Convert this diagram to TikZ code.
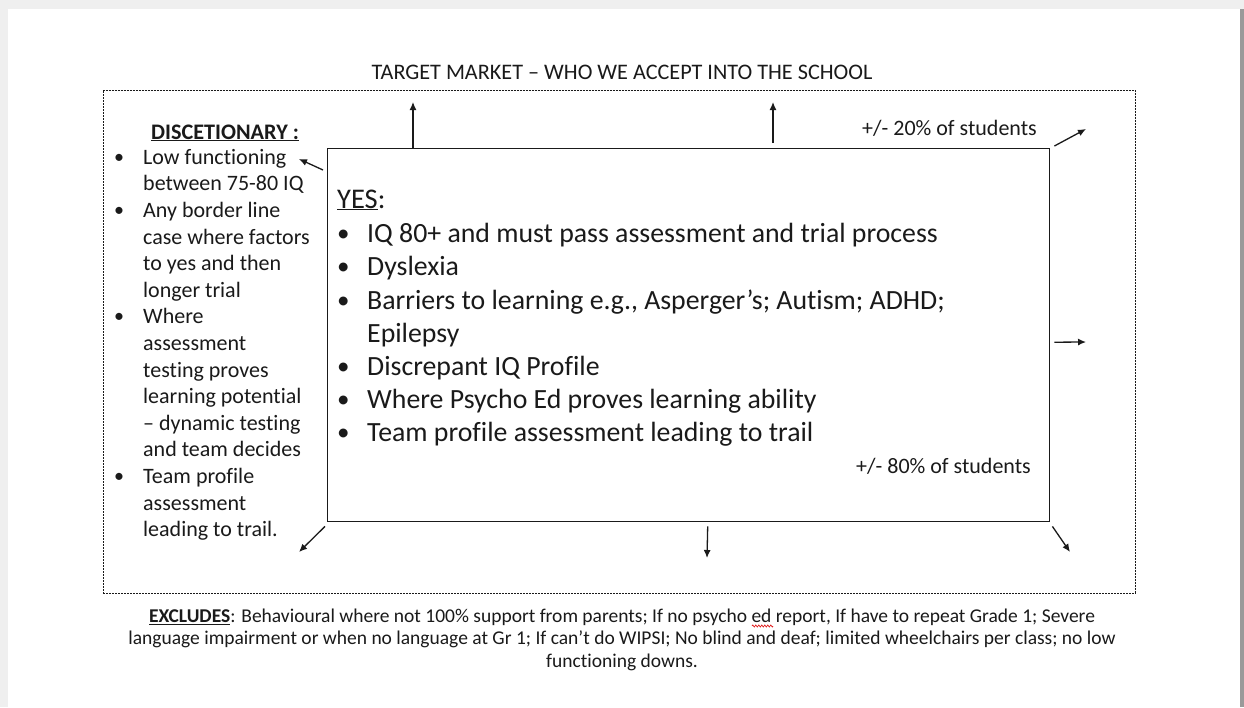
\documentclass[tikz,border=0pt]{standalone}
\usepackage{fontspec}
\setmainfont{Carlito}[Ligatures=NoCommon]
\usetikzlibrary{arrows.meta,decorations.pathmorphing}
\tikzset{>={Latex[length=8pt,width=7pt]}}

\definecolor{pagegrey}{HTML}{EFEFEF}
\definecolor{edgegrey}{HTML}{9A9A9A}
\definecolor{inkblack}{HTML}{1A1A1A}
\definecolor{spellred}{HTML}{E02020}

\newcommand\bul{\makebox[0pt][r]{\makebox[29pt][l]{\raisebox{1pt}{\fontsize{20}{20}\selectfont\textbullet}}}}
\newcommand\bigbul{\makebox[0pt][r]{\makebox[30pt][l]{\raisebox{1pt}{\fontsize{25}{25}\selectfont\textbullet}}}}

\begin{document}
\begin{tikzpicture}[x=1pt,y=-1pt,
squarebox/.style={draw=inkblack, anchor=north west, inner sep=0pt},
listtext/.style={anchor=north west, inner sep=0pt, align=left, text=inkblack},
arrowline/.style={->, draw=inkblack, line width=1.3pt},
]
\useasboundingbox (0,0) rectangle (1244,707);
%Page
\fill[pagegrey] (0,0) rectangle (1244,707);
\fill[white] (8,9) rectangle (1240,707);
\fill[edgegrey] (1240,9) rectangle (1244,707);

%Boxes
\node[squarebox, dash pattern=on 2pt off 1pt, line width=0.9pt, minimum width=1032pt, minimum height=503pt](Market) at (103,90){};
\node[squarebox, line width=1.4pt, minimum width=722pt, minimum height=373pt](Yes) at (327,148){};

%Texts
\node[anchor=base, text=inkblack, font=\fontsize{22.2}{26}\selectfont](Title) at (622,79){TARGET MARKET – WHO WE ACCEPT INTO THE SCHOOL};
\node[anchor=base west, inner sep=0pt, text=inkblack, font=\fontsize{22.2}{26.6}\selectfont\bfseries](Disc) at (151,139){\underline{DISCETIONARY :}};
\node[listtext, font=\fontsize{22}{26.6}\selectfont](DiscList) at (143,145.4){\strut\bul Low functioning\\
between 75-80 IQ\\
\bul Any border line\\
case where factors\\
to yes and then\\
longer trial\\
\bul Where\\
assessment\\
testing proves\\
learning potential\\
– dynamic testing\\
and team decides\\
\bul Team profile\\
assessment\\
leading to trail.};
\node[anchor=base west, inner sep=0pt, text=inkblack, font=\fontsize{28.5}{33}\selectfont](YesHead) at (337,208){\underline{YES}:};
\node[listtext, font=\fontsize{27.8}{33.2}\selectfont](YesList) at (367,219.3){\strut\bigbul IQ 80+ and must pass assessment and trial process\\
\bigbul Dyslexia\\
\bigbul Barriers to learning e.g., Asperger’s; Autism; ADHD;\\
Epilepsy\\
\bigbul Discrepant IQ Profile\\
\bigbul Where Psycho Ed proves learning ability\\
\bigbul Team profile assessment leading to trail};
\node[anchor=base east, inner sep=0pt, text=inkblack, font=\fontsize{22}{26}\selectfont](Twenty) at (1037,135){+/- 20\% of students};
\node[anchor=base east, inner sep=0pt, text=inkblack, font=\fontsize{22}{26}\selectfont](Eighty) at (1031,473){+/- 80\% of students};
\node[anchor=north, inner sep=0pt, align=center, text=inkblack, font=\fontsize{19.5}{22.5}\selectfont](Excludes) at (622,606.2){\strut\underline{\textbf{EXCLUDES}}: Behavioural where not 100\% support from parents; If no psycho ed report, If have to repeat Grade 1; Severe\\
language impairment or when no language at Gr 1; If can’t do WIPSI; No blind and deaf; limited wheelchairs per class; no low\\
functioning downs.};
\draw[spellred, line width=0.7pt, decorate, decoration={zigzag, segment length=3pt, amplitude=1pt}] (752,626) -- (773,626);

%Arrow ends
\coordinate (UpA) at (413,102);
\coordinate (UpB) at (773,102);
\coordinate (NE) at (1086,129);
\coordinate (E) at (1086,342);
\coordinate (SE) at (1070,552);
\coordinate (S) at (707,558);
\coordinate (SW) at (299,552);
\coordinate (W) at (299,159);

%Lines
\draw[arrowline] (Yes.north west)++(86,0) -- (UpA);
\draw[arrowline] (Yes.north west)++(446,-5) -- (UpB);
\draw[arrowline] (Yes.north east)++(4,-2) -- (NE);
\draw[arrowline] (Yes.east)++(4,7) -- (E);
\draw[arrowline] (Yes.south east)++(2,4) -- (SE);
\draw[arrowline] (Yes.south)++(19,4) -- (S);
\draw[arrowline] (Yes.south west)++(-2,4) -- (SW);
\draw[arrowline] (Yes.north west)++(-4,22) -- (W);
\end{tikzpicture}
\end{document}
